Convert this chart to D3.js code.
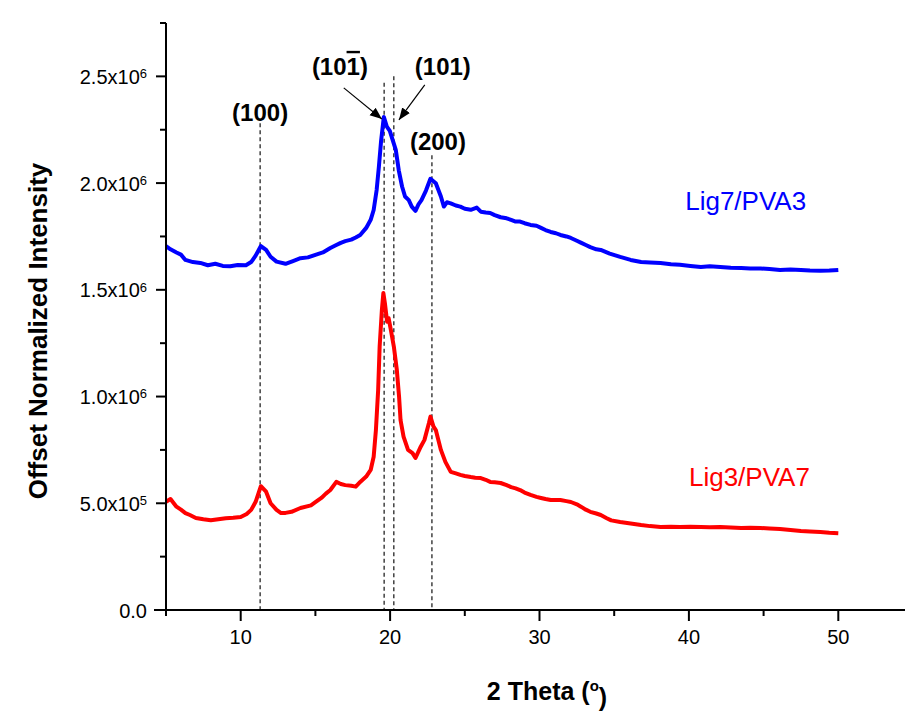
<!DOCTYPE html>
<head>
<meta charset="utf-8">
<style>
body {
  margin: 0;
  background: #fff;
}
text {
  font-family: "Liberation Sans", Arial, sans-serif;
}
</style>
<script src="https://d3js.org/d3.v7.min.js"></script>
</head>
<body>
<script>
  const width = 905;
  const height = 713;
  const margin = {left: 166, top: 23, bottom: 103};

  // 2 theta (deg) and intensity (x10^6)
  const blueTheta = [5.0, 5.3, 5.7, 6.0, 6.3, 6.8, 7.3, 7.8, 8.3, 8.8, 9.3, 9.8, 10.35, 10.7, 11.0, 11.35, 11.7, 12.0, 12.4, 13.0,
    13.5, 14.0, 14.5, 15.0, 15.5, 16.0, 16.4, 16.7, 17.0, 17.4, 17.7, 18.0, 18.4, 18.7, 18.9, 19.1, 19.25, 19.4, 19.58, 19.78,
    19.98, 20.18, 20.38, 20.58, 20.8, 21.0, 21.25, 21.45, 21.7, 21.9, 22.1, 22.4, 22.7, 23.06, 23.4, 23.6, 23.8, 24.06, 24.4, 24.7,
    25.0, 25.4, 25.8, 26.07, 26.4, 26.7, 27.0, 27.4, 27.8, 28.1, 28.4, 28.7, 29.0, 29.4, 29.8, 30.1, 30.4, 30.75, 31.1, 31.4,
    31.8, 32.1, 32.5, 32.8, 33.1, 33.4, 33.8, 34.1, 34.7, 35.4, 36.1, 36.8, 37.4, 38.1, 38.8, 39.4, 40.1, 40.8, 41.4, 42.1,
    42.8, 43.5, 44.1, 44.8, 45.4, 46.1, 46.8, 47.5, 48.1, 48.8, 49.4, 50.0];
  const blueIntensity = [1.705, 1.69, 1.675, 1.665, 1.64, 1.63, 1.626, 1.615, 1.622, 1.612, 1.61, 1.616, 1.615, 1.63, 1.66, 1.705, 1.687, 1.655, 1.632, 1.622,
    1.635, 1.648, 1.652, 1.664, 1.675, 1.696, 1.71, 1.72, 1.728, 1.735, 1.745, 1.757, 1.79, 1.828, 1.874, 1.968, 2.077, 2.2, 2.31, 2.265,
    2.245, 2.2, 2.156, 2.06, 1.984, 1.937, 1.92, 1.89, 1.87, 1.9, 1.92, 1.965, 2.02, 1.999, 1.937, 1.89, 1.91, 1.905, 1.895, 1.89,
    1.88, 1.875, 1.885, 1.866, 1.862, 1.86, 1.85, 1.84, 1.835, 1.828, 1.82, 1.82, 1.812, 1.804, 1.8, 1.79, 1.78, 1.771, 1.765, 1.757,
    1.75, 1.743, 1.73, 1.72, 1.71, 1.7, 1.69, 1.687, 1.67, 1.654, 1.64, 1.63, 1.628, 1.626, 1.62, 1.617, 1.612, 1.607, 1.61, 1.607,
    1.603, 1.602, 1.6, 1.6, 1.597, 1.593, 1.595, 1.593, 1.59, 1.589, 1.59, 1.593];

  const redTheta = [5.0, 5.3, 5.7, 6.0, 6.3, 6.6, 7.0, 7.5, 8.0, 8.5, 9.0, 9.5, 10.0, 10.4, 10.7, 11.0, 11.35, 11.7, 12.0, 12.4,
    12.7, 13.0, 13.4, 14.0, 14.7, 15.0, 15.4, 15.7, 16.0, 16.4, 16.7, 17.0, 17.4, 17.7, 18.0, 18.4, 18.7, 18.9, 19.05, 19.2,
    19.3, 19.45, 19.55, 19.65, 19.8, 19.9, 20.05, 20.25, 20.45, 20.6, 20.7, 20.9, 21.2, 21.5, 21.7, 22.05, 22.3, 22.6, 22.7, 22.9,
    23.06, 23.4, 23.7, 24.06, 24.4, 24.7, 25.0, 25.4, 25.7, 26.07, 26.4, 26.7, 27.0, 27.4, 27.8, 28.1, 28.4, 28.7, 29.0, 29.4,
    29.8, 30.1, 30.4, 30.75, 31.1, 31.4, 31.8, 32.1, 32.5, 32.8, 33.1, 33.4, 33.8, 34.1, 34.5, 34.8, 35.4, 36.1, 36.8, 37.4,
    38.1, 38.8, 39.4, 40.1, 40.8, 41.4, 42.1, 42.8, 43.5, 44.1, 44.8, 45.4, 46.1, 46.8, 47.5, 48.1, 48.8, 49.4, 50.0];
  const redIntensity = [0.507, 0.52, 0.484, 0.47, 0.454, 0.445, 0.431, 0.425, 0.42, 0.425, 0.43, 0.432, 0.436, 0.45, 0.469, 0.507, 0.58, 0.554, 0.5, 0.469,
    0.454, 0.455, 0.46, 0.478, 0.49, 0.505, 0.525, 0.545, 0.562, 0.6, 0.59, 0.585, 0.582, 0.578, 0.6, 0.625, 0.656, 0.718, 0.843, 1.03,
    1.234, 1.406, 1.485, 1.438, 1.35, 1.367, 1.312, 1.234, 1.125, 1.0, 0.89, 0.812, 0.75, 0.735, 0.712, 0.765, 0.797, 0.876, 0.906, 0.86,
    0.843, 0.75, 0.694, 0.647, 0.64, 0.633, 0.628, 0.623, 0.62, 0.618, 0.61, 0.6, 0.598, 0.595, 0.585, 0.576, 0.57, 0.562, 0.55, 0.539,
    0.53, 0.525, 0.52, 0.515, 0.515, 0.515, 0.51, 0.506, 0.495, 0.483, 0.47, 0.46, 0.452, 0.445, 0.43, 0.42, 0.412, 0.405, 0.398, 0.393,
    0.389, 0.39, 0.389, 0.39, 0.389, 0.388, 0.389, 0.386, 0.384, 0.385, 0.384, 0.382, 0.38, 0.375, 0.37, 0.368, 0.365, 0.362, 0.36];

  const seriesNames = ["Lig7/PVA3", "Lig3/PVA7"];
  const seriesColors = ["#0000ff", "#ff0000"];
  const seriesLabelPos = [[43.8, 1.874e6], [44.05, 0.581e6]];

  // reflections: dashed guide lines (x, top of line)
  const peakTheta = [11.3, 19.6, 20.25, 22.8];
  const peakTop = [2.28e6, 2.47e6, 2.5e6, 2.13e6];

  const xTicks = [10, 20, 30, 40, 50];
  const xMinor = [5, 15, 25, 35, 45, 55];
  const yTicks = [0, 5e5, 1e6, 1.5e6, 2e6, 2.5e6];
  const yMinor = [2.5e5, 7.5e5, 1.25e6, 1.75e6, 2.25e6, 2.75e6];

  var x = d3.scaleLinear().domain([5, 55]).range([margin.left, margin.left + 747]);
  var y = d3.scaleLinear().domain([0, 2.75e6]).range([height - margin.bottom, margin.top]);

  var svg = d3.select("body").append("svg")
    .attr("width", width)
    .attr("height", height);

  svg.append("defs").append("marker")
    .attr("id", "arrow")
    .attr("viewBox", "0 0 10 10")
    .attr("refX", 10).attr("refY", 5)
    .attr("markerWidth", 12).attr("markerHeight", 12)
    .attr("markerUnits", "userSpaceOnUse")
    .attr("orient", "auto")
    .append("path")
      .attr("d", "M0,1 L10,5 L0,9 Z")
      .attr("fill", "#000");

  // dashed lines
  svg.append("g").selectAll("line")
    .data(peakTheta)
    .enter().append("line")
      .attr("x1", d => x(d)).attr("x2", d => x(d))
      .attr("y1", (d, i) => y(peakTop[i]))
      .attr("y2", y(0))
      .attr("stroke", "#111")
      .attr("stroke-width", 1.2)
      .attr("stroke-dasharray", "4,3");

  // curves
  var series = [
    blueTheta.map((t, i) => [t, blueIntensity[i] * 1e6]),
    redTheta.map((t, i) => [t, redIntensity[i] * 1e6])
  ];
  var line = d3.line().x(d => x(d[0])).y(d => y(d[1]));

  svg.append("g").selectAll("path")
    .data(series)
    .enter().append("path")
      .attr("d", line)
      .attr("fill", "none")
      .attr("stroke", (d, i) => seriesColors[i])
      .attr("stroke-width", 4)
      .attr("stroke-linejoin", "round");

  function styleAxis(g) {
    g.selectAll("path, line").attr("stroke", "#000").attr("stroke-width", 2);
    g.selectAll("text").attr("fill", "#000").attr("font-size", 20)
      .attr("font-family", "Liberation Sans, Arial, sans-serif");
  }

  // axes
  var xAxis = svg.append("g")
    .attr("transform", "translate(0," + y(0) + ")");
  xAxis.call(d3.axisBottom(x).tickValues(xMinor).tickSize(6).tickFormat("").offset(0))
    .call(g => g.select(".domain").remove())
    .call(styleAxis);
  xAxis.append("g")
    .call(d3.axisBottom(x).tickValues(xTicks).tickSize(11).tickSizeOuter(0).tickPadding(9).offset(0))
    .call(g => g.select(".domain").attr("d", "M" + (margin.left - 12) + ",0H" + x(55)))
    .call(styleAxis);

  var yAxis = svg.append("g")
    .attr("transform", "translate(" + margin.left + ",0)");
  yAxis.call(d3.axisLeft(y).tickValues(yMinor).tickSize(6).tickFormat("").offset(0))
    .call(g => g.select(".domain").remove())
    .call(styleAxis);
  var yMajor = yAxis.append("g")
    .call(d3.axisLeft(y).tickValues(yTicks).tickSize(10).tickSizeOuter(0).tickFormat("").offset(0))
    .call(g => g.select(".domain").attr("d", "M0," + y(0) + "V" + y(2.75e6)))
    .call(styleAxis);

  var yLabels = yMajor.selectAll(".tick")
    .append("text")
      .attr("x", -19)
      .attr("dy", "0.38em")
      .attr("text-anchor", "end")
      .attr("fill", "#000")
      .attr("font-size", 20);
  yLabels.each(function(d) {
    var t = d3.select(this);
    if (d === 0) {
      t.text("0.0");
      return;
    }
    var exp = Math.floor(Math.log10(d));
    var mant = d / Math.pow(10, exp);
    t.append("tspan").text(mant.toFixed(1) + "x10");
    t.append("tspan").attr("dy", "-0.45em").attr("font-size", 13).text(exp);
  });

  // axis titles
  svg.append("text")
    .attr("transform", "translate(47," + 331 + ") rotate(-90)")
    .attr("text-anchor", "middle")
    .attr("font-size", 26)
    .attr("font-weight", "bold")
    .text("Offset Normalized Intensity");

  var xt = svg.append("text")
    .attr("x", 547)
    .attr("y", 700)
    .attr("text-anchor", "middle")
    .attr("font-size", 25)
    .attr("font-weight", "bold");
  xt.append("tspan").text("2 Theta (");
  xt.append("tspan").attr("dy", "-0.6em").attr("font-size", 15).text("o");
  xt.append("tspan").attr("dy", "0.6em").text(")");

  // reflection labels
  var hkl = svg.append("g")
    .attr("font-size", 24)
    .attr("font-weight", "bold")
    .attr("text-anchor", "middle");
  hkl.append("text").attr("x", x(11.3)).attr("y", y(2.29e6)).text("(100)");
  var bar = hkl.append("text").attr("x", x(16.64)).attr("y", y(2.507e6));
  bar.append("tspan").text("(10");
  bar.append("tspan").style("text-decoration", "overline").text("1");
  bar.append("tspan").text(")");
  hkl.append("text").attr("x", x(23.53)).attr("y", y(2.507e6)).text("(101)");
  hkl.append("text").attr("x", x(23.2)).attr("y", y(2.156e6)).text("(200)");

  // arrows
  const arrowFrom = [[16.9, 2.446e6], [22.32, 2.46e6]];
  const arrowTo = [[19.45, 2.3e6], [20.59, 2.296e6]];
  svg.append("g").selectAll("line")
    .data(arrowFrom)
    .enter().append("line")
      .attr("x1", d => x(d[0])).attr("y1", d => y(d[1]))
      .attr("x2", (d, i) => x(arrowTo[i][0])).attr("y2", (d, i) => y(arrowTo[i][1]))
      .attr("stroke", "#000")
      .attr("stroke-width", 1.2)
      .attr("marker-end", "url(#arrow)");

  // series labels
  svg.append("g").selectAll("text")
    .data(seriesNames)
    .enter().append("text")
      .attr("x", (d, i) => x(seriesLabelPos[i][0]))
      .attr("y", (d, i) => y(seriesLabelPos[i][1]))
      .attr("text-anchor", "middle")
      .attr("font-size", 26)
      .attr("fill", (d, i) => seriesColors[i])
      .text(d => d);
</script>
</body>
</html>
